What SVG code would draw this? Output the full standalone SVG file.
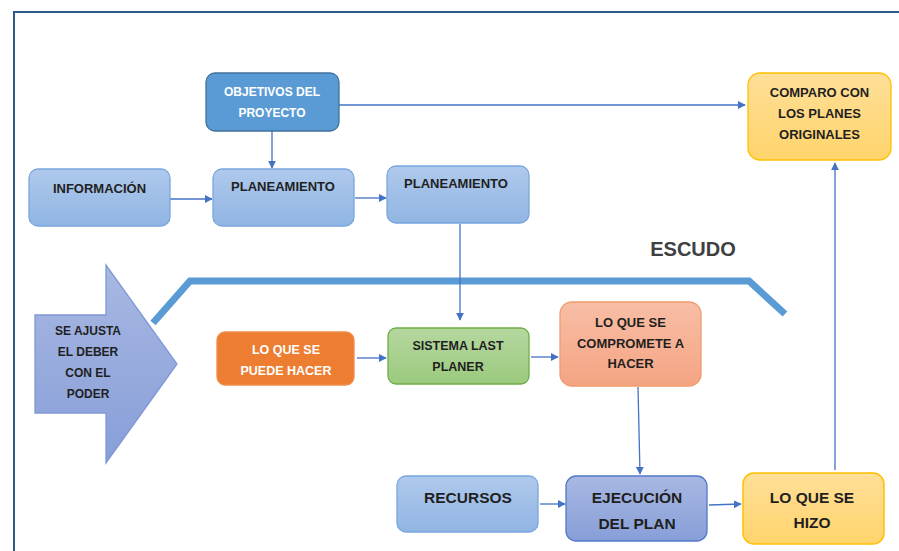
<svg xmlns="http://www.w3.org/2000/svg" width="899" height="551" viewBox="0 0 899 551">
<style>
text{font-family:"Liberation Sans",Arial,sans-serif;font-weight:bold;text-anchor:middle;fill:#1f1f1f}
.w{fill:#ffffff}
.c{fill:none;stroke:#4472c4;stroke-width:1.3}
</style>
<defs>
<marker id="ah" viewBox="0 0 10 10" refX="9" refY="5" markerWidth="8" markerHeight="8" markerUnits="userSpaceOnUse" orient="auto">
<path d="M0,0 L10,5 L0,10 z" fill="#4472c4"/>
</marker>
<linearGradient id="gb" x1="0" y1="0" x2="0" y2="1"><stop offset="0" stop-color="#afc9ec"/><stop offset="1" stop-color="#91b5e3"/></linearGradient>
<linearGradient id="gy" x1="0" y1="0" x2="0" y2="1"><stop offset="0" stop-color="#ffdf98"/><stop offset="1" stop-color="#ffd46c"/></linearGradient>
<linearGradient id="gg" x1="0" y1="0" x2="0" y2="1"><stop offset="0" stop-color="#b5d79f"/><stop offset="1" stop-color="#9bca7e"/></linearGradient>
<linearGradient id="gs" x1="0" y1="0" x2="0" y2="1"><stop offset="0" stop-color="#f8bea6"/><stop offset="1" stop-color="#f4a482"/></linearGradient>
<linearGradient id="gp" x1="0" y1="0" x2="0" y2="1"><stop offset="0" stop-color="#a8b8e2"/><stop offset="1" stop-color="#879ed8"/></linearGradient>
</defs>
<rect width="899" height="551" fill="#ffffff"/>
<path d="M14,551 V12 H899" fill="none" stroke="#2e5a8a" stroke-width="2"/>

<g id="shield">
<path d="M153,323 L190,281 L749,281 L785,314" fill="none" stroke="#5b9bd5" stroke-width="7"/>
<text x="693" y="256" style="font-size:20px;fill:#404040">ESCUDO</text>
</g>

<g id="connectors">
<path class="c" marker-end="url(#ah)" d="M339,105 H745"/>
<path class="c" marker-end="url(#ah)" d="M272,131 V168"/>
<path class="c" marker-end="url(#ah)" d="M170,199 H212"/>
<path class="c" marker-end="url(#ah)" d="M355,198 H386"/>
<path class="c" marker-end="url(#ah)" d="M460,224 V320"/>
<path class="c" marker-end="url(#ah)" d="M357,358 H386"/>
<path class="c" marker-end="url(#ah)" d="M531,357 H558"/>
<path class="c" marker-end="url(#ah)" d="M638,387 L640,474"/>
<path class="c" marker-end="url(#ah)" d="M540,504 H565"/>
<path class="c" marker-end="url(#ah)" d="M709,505 L741,504"/>
<path class="c" marker-end="url(#ah)" d="M835,470 V163"/>
</g>

<g id="objetivos">
<rect x="206" y="73" width="133" height="58" rx="9" fill="#5b9bd5" stroke="#41719c" stroke-width="1.3"/>
<text class="w" x="272" y="95.5" style="font-size:12px">OBJETIVOS DEL</text>
<text class="w" x="272" y="116.5" style="font-size:12px">PROYECTO</text>
</g>

<g id="informacion">
<rect x="29" y="169" width="141" height="57" rx="9" fill="url(#gb)" stroke="#78a7de" stroke-width="1.3"/>
<text x="99.5" y="193" style="font-size:13px">INFORMACIÓN</text>
</g>

<g id="planeamiento1">
<rect x="213" y="169" width="141" height="57" rx="9" fill="url(#gb)" stroke="#78a7de" stroke-width="1.3"/>
<text x="283" y="191" style="font-size:13px">PLANEAMIENTO</text>
</g>

<g id="planeamiento2">
<rect x="387" y="166" width="142" height="57" rx="9" fill="url(#gb)" stroke="#78a7de" stroke-width="1.3"/>
<text x="456" y="188" style="font-size:13px">PLANEAMIENTO</text>
</g>

<g id="comparo">
<rect x="748" y="73" width="143" height="87" rx="12" fill="url(#gy)" stroke="#ffc000" stroke-width="1.3"/>
<text x="819.5" y="96.5" style="font-size:13px">COMPARO CON</text>
<text x="819.5" y="117.5" style="font-size:13px">LOS PLANES</text>
<text x="819.5" y="138.5" style="font-size:13px">ORIGINALES</text>
</g>

<g id="se-ajusta">
<path d="M35,315 H106 V265 L177,364 L106,463 V413 H35 Z" fill="url(#gp)" stroke="#7f98d6" stroke-width="1.3"/>
<text x="88" y="334.5" style="font-size:12px">SE AJUSTA</text>
<text x="88" y="356" style="font-size:12px">EL DEBER</text>
<text x="88" y="376.5" style="font-size:12px">CON EL</text>
<text x="88" y="397.5" style="font-size:12px">PODER</text>
</g>

<g id="puede-hacer">
<rect x="217" y="332" width="137" height="53" rx="8" fill="#ed7d31" stroke="#f08c4c" stroke-width="1.3"/>
<text class="w" x="286" y="353.5" style="font-size:12.5px">LO QUE SE</text>
<text class="w" x="286" y="374.5" style="font-size:12.5px">PUEDE HACER</text>
</g>

<g id="sistema">
<rect x="388" y="328" width="141" height="56" rx="8" fill="url(#gg)" stroke="#70ad47" stroke-width="1.3"/>
<text x="458" y="349.5" style="font-size:12.5px">SISTEMA LAST</text>
<text x="458" y="370.5" style="font-size:12.5px">PLANER</text>
</g>

<g id="compromete">
<rect x="560" y="302" width="141" height="84" rx="12" fill="url(#gs)" stroke="#f29b6e" stroke-width="1.3"/>
<text x="630.5" y="326.5" style="font-size:13px">LO QUE SE</text>
<text x="630.5" y="347.5" style="font-size:13px">COMPROMETE A</text>
<text x="630.5" y="367.5" style="font-size:13px">HACER</text>
</g>

<g id="recursos">
<rect x="397" y="476" width="141" height="56" rx="9" fill="url(#gb)" stroke="#78a7de" stroke-width="1.3"/>
<text x="468" y="502.5" style="font-size:15.5px">RECURSOS</text>
</g>

<g id="ejecucion">
<rect x="566" y="476" width="141" height="65" rx="10" fill="url(#gp)" stroke="#5279c8" stroke-width="1.3"/>
<text x="637" y="502.5" style="font-size:15.5px">EJECUCIÓN</text>
<text x="637" y="528.5" style="font-size:15.5px">DEL PLAN</text>
</g>

<g id="hizo">
<rect x="743" y="473" width="141" height="71" rx="11" fill="url(#gy)" stroke="#ffc000" stroke-width="1.5"/>
<text x="812" y="502.5" style="font-size:15.5px">LO QUE SE</text>
<text x="812" y="527.5" style="font-size:15.5px">HIZO</text>
</g>
</svg>
